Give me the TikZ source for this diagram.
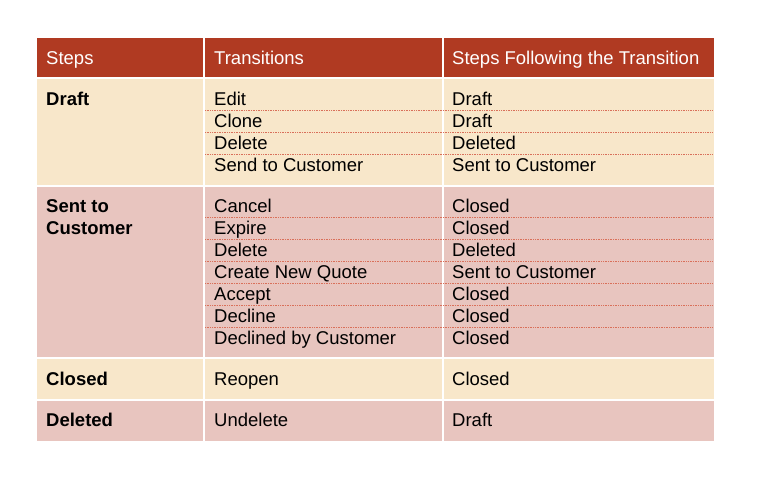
\documentclass[tikz,border=0pt]{standalone}
\usepackage{fontspec}
\setmainfont{Liberation Sans}
\definecolor{hdr}{HTML}{B03A22}
\definecolor{beige}{HTML}{F8E7CA}
\definecolor{pinkc}{HTML}{E8C5BF}
\definecolor{dotc}{HTML}{D9705A}
\tikzset{
 cell/.style={anchor=base west,inner sep=0pt,font=\fontsize{18.5}{22}\selectfont},
 hcell/.style={cell,text=white},
 bcell/.style={cell,font=\fontsize{18.5}{22}\selectfont\bfseries},
 sep/.style={dotc,densely dotted,line width=0.7pt},
 gap/.style={white,line width=2pt}
}
\begin{document}
\begin{tikzpicture}[x=1pt,y=-1pt]
\useasboundingbox[fill=white] (0,0) rectangle (757,481);
\fill[hdr] (37,38) rectangle (714,78);
\fill[beige] (37,78) rectangle (714,186);
\fill[pinkc] (37,186) rectangle (714,358);
\fill[beige] (37,358) rectangle (714,400);
\fill[pinkc] (37,400) rectangle (714,441);
\foreach \y in {78,186,358,400} \draw[gap] (37,\y) -- (714,\y);
\draw[white,line width=1.2pt] (204,38) -- (204,441) (443,38) -- (443,441);
\foreach \y in {110,132,154,217,239,261,283,305,327}
 \draw[sep] (205,\y) -- (713,\y);
\node[hcell] (h1) at (46,64.5) {Steps};
\node[hcell] (h2) at (214,64.5) {Transitions};
\node[hcell] (h3) at (452,64.5) {Steps Following the Transition};
\node[bcell] (s1) at (46,105.5) {Draft};
\node[bcell] (s2) at (46,212.5) {Sent to};
\node[bcell] (s2b) at (46,234.5) {Customer};
\node[bcell] (s3) at (46,385.5) {Closed};
\node[bcell] (s4) at (46,426.5) {Deleted};
\foreach \t/\r/\y [count=\i] in {Edit/Draft/105.5,Clone/Draft/127.5,Delete/Deleted/149.5,Send to Customer/Sent to Customer/171.5,
 Cancel/Closed/212.5,Expire/Closed/234.5,Delete/Deleted/256.5,Create New Quote/Sent to Customer/278.5,Accept/Closed/300.5,Decline/Closed/322.5,Declined by Customer/Closed/344.5,
 Reopen/Closed/385.5,Undelete/Draft/426.5}{
 \node[cell] (t\i) at (214,\y) {\t};
 \node[cell] (r\i) at (452,\y) {\r};
}
\end{tikzpicture}
\end{document}
